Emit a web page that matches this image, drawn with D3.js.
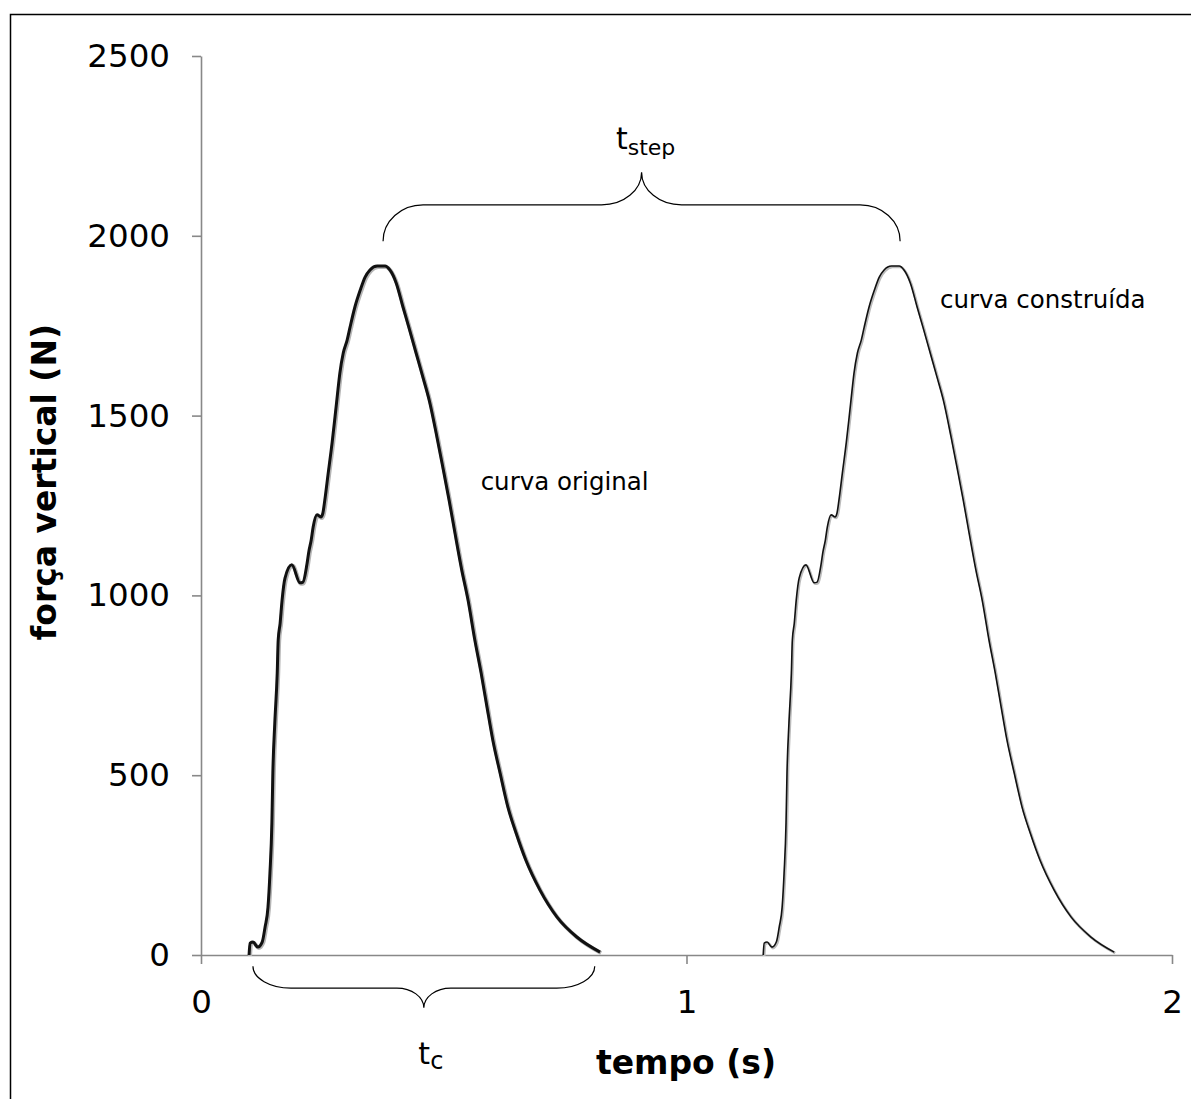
<!DOCTYPE html>
<html><head><meta charset="utf-8">
<script src="https://cdn.jsdelivr.net/npm/d3@7"></script>
<style>
html,body{margin:0;padding:0;background:#fff;}
svg{display:block;font-family:"DejaVu Sans",Verdana,sans-serif;}
</style></head>
<body><svg id="chart" width="1191" height="1099"></svg>
<script>
// ---- data ----
const timeOriginal = [0.099,0.101,0.107,0.117,0.126,0.132,0.138,0.142,0.146,0.148,0.152,0.157,0.159,0.163,0.167,0.173,0.187,0.204,0.210,0.218,0.222,0.227,0.231,0.239,0.247,0.251,0.255,0.262,0.270,0.276,0.282,0.286,0.293,0.301,0.307,0.317,0.328,0.338,0.348,0.363,0.379,0.389,0.402,0.416,0.428,0.443,0.457,0.470,0.486,0.498,0.511,0.523,0.537,0.550,0.564,0.577,0.589,0.601,0.616,0.632,0.649,0.669,0.698,0.733,0.774,0.822];
const forceOriginal = [0,33,36,22,36,78,133,228,367,506,645,784,876,923,987,1048,1085,1035,1037,1085,1121,1154,1190,1224,1218,1229,1265,1340,1424,1496,1571,1618,1674,1710,1746,1802,1849,1885,1905,1916,1916,1905,1869,1802,1746,1674,1607,1543,1440,1357,1265,1174,1071,987,876,784,690,598,506,412,339,264,181,106,50,8];
const timeConstructed = [1.158,1.160,1.166,1.176,1.185,1.191,1.197,1.201,1.205,1.207,1.211,1.216,1.218,1.222,1.226,1.232,1.246,1.263,1.269,1.277,1.281,1.286,1.290,1.298,1.306,1.310,1.314,1.321,1.329,1.335,1.341,1.345,1.352,1.360,1.366,1.376,1.387,1.397,1.407,1.422,1.438,1.448,1.461,1.475,1.487,1.502,1.516,1.529,1.545,1.557,1.570,1.582,1.596,1.609,1.623,1.636,1.648,1.660,1.675,1.691,1.708,1.728,1.757,1.792,1.833,1.881];
const forceConstructed = [0,33,36,22,36,78,133,228,367,506,645,784,876,923,987,1048,1085,1035,1037,1085,1121,1154,1190,1224,1218,1229,1265,1340,1424,1496,1571,1618,1674,1710,1746,1802,1849,1885,1905,1916,1916,1905,1869,1802,1746,1674,1607,1543,1440,1357,1265,1174,1071,987,876,784,690,598,506,412,339,264,181,106,50,8];
const xTicks = [0,1,2];
const yTicks = [0,500,1000,1500,2000,2500];
const xTitle = "tempo (s)";
const yTitle = "força vertical (N)";
const labelOriginal = "curva original";
const labelConstructed = "curva construída";
// brace annotations: [start time, end time]
const stepSpan = [0.375, 1.44];
const contactSpan = [0.107, 0.811];

// ---- layout ----
const svg = d3.select("#chart");
const x = d3.scaleLinear().domain([0,2]).range([201,1172]);
const y = d3.scaleLinear().domain([0,2500]).range([955,56]);

// outer frame (right and bottom edges run off the picture)
svg.append("rect").attr("x",10.5).attr("y",14.5).attr("width",1200).attr("height",1100)
  .attr("fill","none").attr("stroke","#000").attr("stroke-width",1.5);

// axes
const axisColor = "#888";
const gy = svg.append("g").attr("transform","translate(201,0)")
  .call(d3.axisLeft(y).tickValues(yTicks).tickSize(9).tickSizeOuter(0).tickPadding(22).tickFormat(d3.format("d")));
const gx = svg.append("g").attr("transform","translate(0,955)")
  .call(d3.axisBottom(x).tickValues(xTicks).tickSize(9).tickSizeOuter(0).tickPadding(26).tickFormat(d3.format("d")));
[gx,gy].forEach(g=>{
  g.selectAll("path.domain").attr("stroke",axisColor).attr("stroke-width",1.6);
  g.selectAll(".tick line").attr("stroke",axisColor).attr("stroke-width",1.6);
  g.selectAll(".tick text").attr("fill","#000").style("font-size","32.5px").style("font-family","'DejaVu Sans',Verdana,sans-serif");
});

// curves
const line = d3.line().x(d=>x(d[0])).y(d=>y(d[1])).curve(d3.curveMonotoneX);
const orig = timeOriginal.map((t,i)=>[t,forceOriginal[i]]);
const cons = timeConstructed.map((t,i)=>[t,forceConstructed[i]]);
svg.append("path").datum(orig).attr("d",line).attr("fill","none")
  .attr("stroke","#b5b5b5").attr("stroke-width",4).attr("stroke-linejoin","round").attr("transform","translate(1,1)");
svg.append("path").datum(orig).attr("d",line).attr("fill","none")
  .attr("stroke","#111").attr("stroke-width",3).attr("stroke-linejoin","round");
svg.append("path").datum(cons).attr("d",line).attr("fill","none")
  .attr("stroke","#bbb").attr("stroke-width",2.6).attr("stroke-linejoin","round").attr("transform","translate(1,1)");
svg.append("path").datum(cons).attr("d",line).attr("fill","none")
  .attr("stroke","#111").attr("stroke-width",1.6).attr("stroke-linejoin","round");

// brace helper: ends at yEnd, horizontal at yMid, cusp at yTip
function brace(L,R,yEnd,yMid,yTip,rEnd,rTip){
  const k=0.552, M=(L+R)/2;
  const p=d3.path();
  p.moveTo(L,yEnd);
  p.bezierCurveTo(L, yEnd+k*(yMid-yEnd), L+rEnd-k*rEnd, yMid, L+rEnd, yMid);
  p.lineTo(M-rTip, yMid);
  p.bezierCurveTo(M-rTip+k*rTip, yMid, M, yTip+k*(yMid-yTip), M, yTip);
  p.moveTo(R,yEnd);
  p.bezierCurveTo(R, yEnd+k*(yMid-yEnd), R-rEnd+k*rEnd, yMid, R-rEnd, yMid);
  p.lineTo(M+rTip, yMid);
  p.bezierCurveTo(M+rTip-k*rTip, yMid, M, yTip+k*(yMid-yTip), M, yTip);
  return p.toString();
}
svg.append("path").attr("d",brace(x(stepSpan[0]),x(stepSpan[1]),y(1985),y(2086),y(2177),40,40))
  .attr("fill","none").attr("stroke","#000").attr("stroke-width",1.2);
svg.append("path").attr("d",brace(x(contactSpan[0]),x(contactSpan[1]),y(-31),y(-92),y(-147),38,27))
  .attr("fill","none").attr("stroke","#000").attr("stroke-width",1.2);

// brace labels
const tstep = svg.append("text").attr("x",(x(stepSpan[0])+x(stepSpan[1]))/2+4).attr("y",y(2240))
  .attr("text-anchor","middle").attr("fill","#000");
tstep.append("tspan").text("t").style("font-size","30px");
tstep.append("tspan").text("step").style("font-size","22px").attr("dy",6);
const tc = svg.append("text").attr("x",(x(contactSpan[0])+x(contactSpan[1]))/2+7).attr("y",1064)
  .attr("text-anchor","middle").attr("fill","#000");
tc.append("tspan").text("t").style("font-size","30px");
tc.append("tspan").text("c").style("font-size","24px").attr("dy",5);

// curve labels
svg.append("text").attr("x",x(0.576)).attr("y",y(1293)).text(labelOriginal)
  .style("font-size","24.5px").attr("fill","#000");
svg.append("text").attr("x",x(1.522)).attr("y",y(1798)).text(labelConstructed)
  .style("font-size","24.5px").attr("fill","#000");

// axis titles
svg.append("text").attr("x",686).attr("y",1074).attr("text-anchor","middle").text(xTitle)
  .style("font-size","33px").style("font-weight","bold").attr("fill","#000");
svg.append("text").attr("transform","translate(56,482) rotate(-90)").attr("text-anchor","middle").text(yTitle)
  .style("font-size","33px").style("font-weight","bold").attr("fill","#000");
</script></body></html>
